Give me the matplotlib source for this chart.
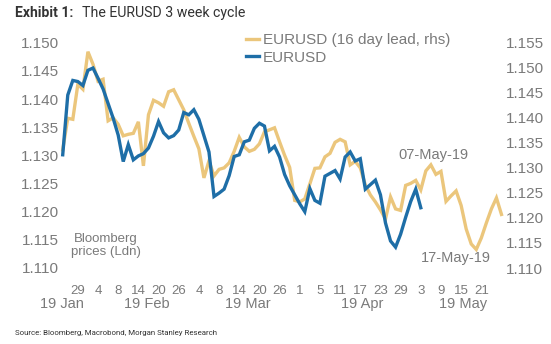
import numpy as np
import matplotlib
matplotlib.use("Agg")
import matplotlib.pyplot as plt
import matplotlib.transforms as mtransforms

# EURUSD daily (business days from 24 Jan 2019), left axis
eurusd = [1.1301, 1.1407, 1.1433, 1.1431, 1.1424, 1.1451, 1.1455, 1.1437, 1.1418, 1.1392,
          1.1366, 1.1336, 1.1289, 1.1319, 1.1292, 1.1299, 1.1303, 1.1313, 1.1334, 1.1360,
          1.1340, 1.1331, 1.1335, 1.1345, 1.1376, 1.1372, 1.1381, 1.1364, 1.1335, 1.1306,
          1.1227, 1.1233, 1.1240, 1.1264, 1.1298, 1.1301, 1.1324, 1.1327, 1.1348, 1.1357,
          1.1352, 1.1308, 1.1316, 1.1297, 1.1266, 1.1246, 1.1230, 1.1214, 1.1200, 1.1241,
          1.1220, 1.1215, 1.1263, 1.1268, 1.1273, 1.1258, 1.1297, 1.1306, 1.1290, 1.1294,
          1.1240, 1.1248, 1.1256, 1.1230, 1.1180, 1.1148, 1.1137, 1.1160, 1.1190, 1.1218,
          1.1240, 1.1207]

# EURUSD with 16 day lead, right axis
eurusd_lead = [1.1336, 1.1399, 1.1397, 1.1467, 1.1457, 1.1532, 1.1507, 1.1473, 1.1477, 1.1394,
               1.1400, 1.1387, 1.1364, 1.1367, 1.1369, 1.1392, 1.1304, 1.1406, 1.1435, 1.1430,
               1.1423, 1.1452, 1.1456, 1.1436, 1.1416, 1.1389, 1.1363, 1.1338, 1.1280, 1.1314,
               1.1284, 1.1297, 1.1300, 1.1310, 1.1333, 1.1361, 1.1342, 1.1333, 1.1337, 1.1348,
               1.1372, 1.1376, 1.1380, 1.1352, 1.1325, 1.1301, 1.1235, 1.1232, 1.1238, 1.1268,
               1.1299, 1.1300, 1.1322, 1.1329, 1.1351, 1.1357, 1.1352, 1.1306, 1.1313, 1.1300,
               1.1266, 1.1246, 1.1232, 1.1216, 1.1198, 1.1242, 1.1218, 1.1215, 1.1265, 1.1269,
               1.1275, 1.1256, 1.1294, 1.1306, 1.1287, 1.1293, 1.1233, 1.1244, 1.1254, 1.1225,
               1.1178, 1.1148, 1.1137, 1.1160, 1.1190, 1.1218, 1.1240, 1.1207]

day_ticks = [3, 7, 11, 15, 19, 23, 27, 31, 35, 39, 43, 47, 51, 55, 59, 63, 67, 71, 75, 79, 83]
day_labels = ["29", "4", "8", "14", "20", "26", "4", "8", "14", "20", "26",
              "1", "5", "11", "17", "23", "29", "3", "9", "15", "21"]
month_pos = [-0.2, 16.7, 36.7, 59.3, 79.4]
month_labels = ["19 Jan", "19 Feb", "19 Mar", "19 Apr", "19 May"]

left_ticks = [1.110, 1.115, 1.120, 1.125, 1.130, 1.135, 1.140, 1.145, 1.150]
right_ticks = [1.110, 1.115, 1.120, 1.125, 1.130, 1.135, 1.140, 1.145, 1.150, 1.155]

yellow = "#EBC67C"
blue = "#1E6EA7"
grey = "#7a7a7a"

plt.rcParams["font.family"] = ["Liberation Sans", "DejaVu Sans"]

fig = plt.figure(figsize=(5.51, 3.44), dpi=100)
ax = fig.add_axes([60.2 / 551, 1 - 268 / 344, 443.8 / 551, 225.3 / 344])
ax2 = ax.twinx()

x_blue = np.arange(len(eurusd))
x_lead = np.arange(len(eurusd_lead))

l2, = ax2.plot(x_lead, eurusd_lead, color=yellow, lw=2.4, solid_joinstyle="miter",
               label="EURUSD (16 day lead, rhs)")
l1, = ax.plot(x_blue, eurusd, color=blue, lw=2.4, solid_joinstyle="miter", label="EURUSD")
ax.set_zorder(ax2.get_zorder() + 1)
ax.patch.set_visible(False)

ax.set_xlim(-0.5, 87.5)
ax.set_ylim(1.110, 1.150)
ax2.set_ylim(1.110, 1.155)

ax.set_yticks(left_ticks)
ax.set_yticklabels(["%.3f" % v for v in left_ticks])
ax2.set_yticks(right_ticks)
ax2.set_yticklabels(["%.3f" % v for v in right_ticks])
ax.set_xticks(day_ticks)
ax.set_xticklabels(day_labels)

for a in (ax, ax2):
    for s in a.spines.values():
        s.set_visible(False)
ax.tick_params(axis="y", length=0, pad=1, labelsize=11, labelcolor=grey)
ax2.tick_params(axis="y", length=0, pad=1, labelsize=11, labelcolor=grey)
ax.tick_params(axis="x", length=0, pad=12, labelsize=9.5, labelcolor=grey)

trans = mtransforms.blended_transform_factory(ax.transData, ax.transAxes)
for p, m in zip(month_pos, month_labels):
    ax.text(p, -0.16, m, transform=trans, ha="center", va="center", fontsize=10.5, color=grey)

ax.text(8.5, 0.10, "Bloomberg\nprices (Ldn)", transform=trans, ha="center", va="center",
        fontsize=9.5, color=grey, linespacing=1.1)

ax2.annotate("07-May-19", xy=(73, 1.1306), xytext=(73.5, 1.1325), ha="center", va="center",
             fontsize=10.5, color=grey)
ax2.annotate("17-May-19", xy=(82, 1.1137), xytext=(77.9, 1.1120), ha="center", va="center",
             fontsize=10.5, color=grey)

fig.legend([l2, l1], ["EURUSD (16 day lead, rhs)", "EURUSD"], loc="upper left",
           bbox_to_anchor=(246 / 551, 1 - 33 / 344), frameon=False, fontsize=11,
           handlelength=0.85, handletextpad=0.25, labelspacing=0.25, labelcolor=grey,
           borderaxespad=0, borderpad=0)

fig.text(15 / 551, 1 - 13 / 344, "Exhibit 1:", fontsize=10, fontweight="bold",
         family="Roboto", color="#333333", va="center")
fig.text(81.5 / 551, 1 - 13 / 344, "The EURUSD 3 week cycle", fontsize=10.2,
         family="Roboto", color="#333333", va="center")
fig.text(15 / 551, 1 - 333 / 344, "Source: Bloomberg, Macrobond, Morgan Stanley Research",
         fontsize=5.7, family="Roboto", color="#333333", va="center")

fig.savefig("out.png", dpi=100)
